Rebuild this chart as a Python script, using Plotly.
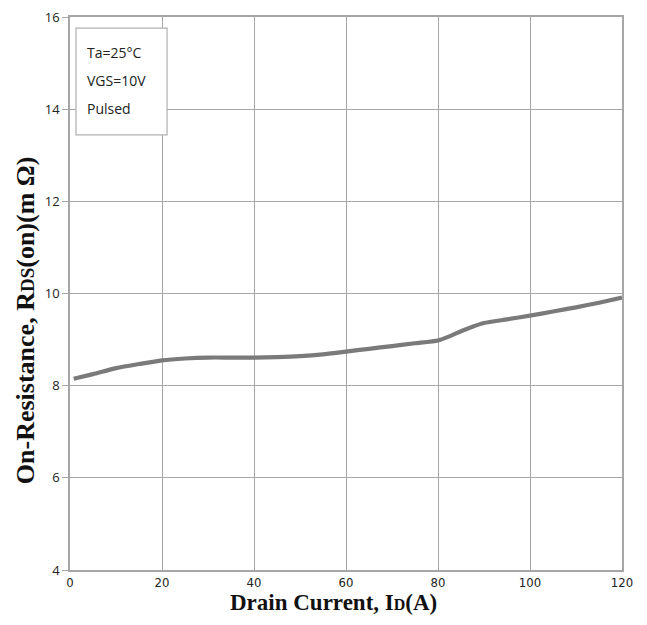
import plotly.graph_objects as go

current = [0.8, 5, 10, 15, 20, 25, 30, 35, 40, 45, 50, 55, 60, 65, 70, 75, 80, 82.5, 85, 87.5, 90, 95, 100, 105, 110, 115, 120]
resistance = [8.15, 8.25, 8.38, 8.47, 8.55, 8.59, 8.61, 8.61, 8.61, 8.62, 8.64, 8.68, 8.74, 8.80, 8.86, 8.92, 8.98, 9.07, 9.18, 9.28, 9.36, 9.44, 9.52, 9.61, 9.70, 9.80, 9.91]

x_ticks = [0, 20, 40, 60, 80, 100, 120]
y_ticks = [4, 6, 8, 10, 12, 14, 16]
conditions = ["Ta=25°C", "VGS=10V", "Pulsed"]
cond_y = [15.22, 14.63, 14.02]

fig = go.Figure()
fig.add_trace(go.Scatter(
    x=current, y=resistance, mode="lines",
    line=dict(color="#7a7a7a", width=4.2, shape="spline", smoothing=0.6),
    hoverinfo="skip", showlegend=False,
))

fig.add_shape(type="rect", xref="x", yref="y", x0=1.3, x1=21.1, y0=13.44, y1=15.76,
              line=dict(color="#b0b0b0", width=1.2), fillcolor="white", layer="above")
for txt, yy in zip(conditions, cond_y):
    fig.add_annotation(x=3.3, y=yy, xref="x", yref="y", text=txt, showarrow=False,
                       xanchor="left", yanchor="middle",
                       font=dict(family="Open Sans, Liberation Sans, sans-serif", size=14, color="#222"))

fig.add_annotation(x=0.478, y=-0.035, xref="paper", yref="paper", yanchor="top", xanchor="center",
                   text="<b>Drain Current, I<span style='font-size:16px'>D</span>(A)</b>",
                   showarrow=False, borderpad=0,
                   font=dict(family="Liberation Serif, Times New Roman, serif", size=23, color="#111"))
fig.add_annotation(x=-0.0815, y=0.45, xref="paper", yref="paper", yanchor="middle", xanchor="center",
                   textangle=-90,
                   text="<b>On-Resistance, R<span style='font-size:19px'>DS</span>(on)(m Ω)</b>",
                   showarrow=False, borderpad=0,
                   font=dict(family="Liberation Serif, Times New Roman, serif", size=26, color="#111"))

fig.update_layout(
    width=631, height=609,
    margin=dict(l=62, r=17, t=9, b=47),
    paper_bgcolor="white", plot_bgcolor="white",
    showlegend=False,
)
fig.update_xaxes(
    range=[0, 120], tickvals=x_ticks, ticktext=[str(v) for v in x_ticks],
    showgrid=True, gridcolor="#a6a6a6", gridwidth=1,
    showline=True, linecolor="#a6a6a6", linewidth=1.5, mirror=True,
    zeroline=False, ticks="", ticklen=0, automargin=False, ticklabeloverflow="allow",
    tickfont=dict(family="DejaVu Sans Condensed, Liberation Sans Narrow, sans-serif", size=13, color="#222"),
)
fig.update_yaxes(
    range=[4, 16], tickvals=y_ticks, ticktext=[str(v) for v in y_ticks],
    showgrid=True, gridcolor="#a6a6a6", gridwidth=1,
    showline=True, linecolor="#a6a6a6", linewidth=1.5, mirror=True,
    zeroline=False, ticks="outside", ticklen=6, tickcolor="#a6a6a6", automargin=False,
    ticklabeloverflow="allow",
    tickfont=dict(family="Open Sans, Liberation Sans, sans-serif", size=13, color="#222"),
)

fig.write_html("out.html")
